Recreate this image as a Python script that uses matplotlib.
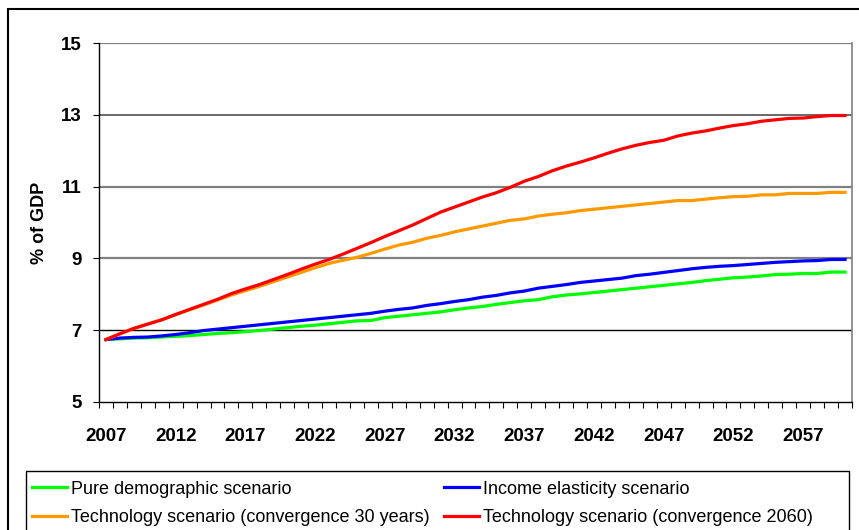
import matplotlib
matplotlib.use("Agg")
import matplotlib.pyplot as plt
from matplotlib.patches import Rectangle
from matplotlib.ticker import FixedLocator, FixedFormatter

plt.rcParams['font.family'] = ['Liberation Sans', 'DejaVu Sans']

years = list(range(2007, 2061))
tick_years = list(range(2007, 2061, 5))

pure_demo = [6.74, 6.76, 6.78, 6.79, 6.81, 6.83, 6.85, 6.88, 6.91, 6.93,
             6.96, 6.99, 7.03, 7.07, 7.11, 7.14, 7.18, 7.22, 7.26, 7.27,
             7.35, 7.39, 7.43, 7.47, 7.51, 7.57, 7.62, 7.66, 7.72, 7.77,
             7.82, 7.85, 7.93, 7.98, 8.01, 8.05, 8.09, 8.13, 8.17, 8.21,
             8.25, 8.29, 8.33, 8.38, 8.42, 8.46, 8.48, 8.51, 8.55, 8.56,
             8.58, 8.58, 8.62, 8.62]
income_elast = [6.74, 6.78, 6.80, 6.81, 6.84, 6.88, 6.93, 6.99, 7.03, 7.07,
                7.11, 7.15, 7.19, 7.23, 7.27, 7.31, 7.35, 7.39, 7.43, 7.47,
                7.53, 7.58, 7.62, 7.69, 7.74, 7.80, 7.85, 7.92, 7.97, 8.04,
                8.09, 8.17, 8.22, 8.27, 8.33, 8.37, 8.41, 8.45, 8.52, 8.56,
                8.61, 8.66, 8.71, 8.75, 8.78, 8.80, 8.83, 8.86, 8.89, 8.91,
                8.93, 8.94, 8.97, 8.97]
tech_30y = [6.74, 6.90, 7.05, 7.17, 7.29, 7.43, 7.57, 7.70, 7.84, 7.98,
            8.10, 8.22, 8.35, 8.48, 8.61, 8.74, 8.86, 8.95, 9.03, 9.14,
            9.26, 9.37, 9.45, 9.56, 9.64, 9.74, 9.82, 9.90, 9.98, 10.06,
            10.10, 10.18, 10.23, 10.27, 10.33, 10.37, 10.41, 10.45, 10.49, 10.53,
            10.57, 10.61, 10.61, 10.65, 10.69, 10.72, 10.73, 10.77, 10.77, 10.81,
            10.81, 10.81, 10.84, 10.84]
tech_2060 = [6.74, 6.90, 7.05, 7.17, 7.29, 7.44, 7.58, 7.72, 7.86, 8.02,
             8.15, 8.27, 8.41, 8.55, 8.70, 8.84, 8.97, 9.12, 9.28, 9.44,
             9.61, 9.77, 9.93, 10.11, 10.29, 10.43, 10.57, 10.71, 10.83, 10.98,
             11.15, 11.28, 11.44, 11.57, 11.68, 11.80, 11.93, 12.05, 12.15, 12.23,
             12.29, 12.41, 12.49, 12.55, 12.63, 12.70, 12.75, 12.82, 12.86, 12.90,
             12.91, 12.95, 12.98, 12.98]

labels = ['Pure demographic scenario',
          'Income elasticity scenario',
          'Technology scenario (convergence 30 years)',
          'Technology scenario (convergence 2060)']
colors = ['#00ff00', '#0000ff', '#ff9900', '#ff0000']

W, H = 859, 530
fig = plt.figure(figsize=(W / 100, H / 100), dpi=100)
ax = fig.add_axes([99 / W, 128 / H, 753 / W, 359 / H])

# outer chart border and legend box (pixel-placed)
fig.patches.append(Rectangle((8 / W, -0.02), (W + 5 - 8) / W, 1.02 - 9 / H,
                             transform=fig.transFigure, fill=False,
                             edgecolor='black', linewidth=1.5))
fig.patches.append(Rectangle((26 / W, -0.05), (849 - 26) / W, 0.05 + (H - 471) / H,
                             transform=fig.transFigure, fill=False,
                             edgecolor='black', linewidth=1.0))

# horizontal grid lines
grid_style = {7: ('black', 1.0), 9: ('#808080', 1.6), 11: ('#808080', 1.6),
              13: ('#404040', 1.1), 15: ('#808080', 1.6)}
for val, (c, lw) in grid_style.items():
    ax.axhline(val, color=c, linewidth=lw, zorder=1)

series = [pure_demo, income_elast, tech_30y, tech_2060]
lines = []
for vals, c, lab in zip(series, colors, labels):
    ln, = ax.plot(years, vals, color=c, linewidth=2.3, label=lab, zorder=3,
                  solid_joinstyle='round')
    lines.append(ln)

ax.set_xlim(2006.5, 2060.5)
ax.set_ylim(5, 15)
ax.set_yticks([5, 7, 9, 11, 13, 15])
ax.xaxis.set_major_locator(FixedLocator(tick_years))
ax.xaxis.set_major_formatter(FixedFormatter([str(y) for y in tick_years]))
ax.xaxis.set_minor_locator(FixedLocator([y - 0.5 for y in years] + [2060.5]))
ax.tick_params(axis='x', which='major', length=0, pad=19, labelsize=13.5)
ax.tick_params(axis='x', which='minor', length=4.5, width=0.8, direction='out')
ax.tick_params(axis='y', which='major', length=4.5, width=0.8, pad=8, labelsize=13.5)
for t in ax.get_xticklabels() + ax.get_yticklabels():
    t.set_fontweight('bold')

ax.spines['top'].set_visible(False)
ax.spines['right'].set_color('#808080')
ax.spines['right'].set_linewidth(1.2)
ax.spines['left'].set_linewidth(1.0)
ax.spines['bottom'].set_linewidth(1.0)

ax.set_ylabel('% of GDP', fontsize=13, fontweight='bold')
ax.yaxis.set_label_coords(-0.068, 0.5)

order = [0, 2, 1, 3]
fig.legend([lines[i] for i in order], [labels[i] for i in order],
           loc='upper left', bbox_to_anchor=(28 / W, 1 - 477 / H),
           ncol=2, frameon=False, fontsize=13, handlelength=1.95,
           handletextpad=0.22, columnspacing=0.8, labelspacing=0.64,
           borderpad=0.2, borderaxespad=0)

fig.savefig('out.png', dpi=100)
